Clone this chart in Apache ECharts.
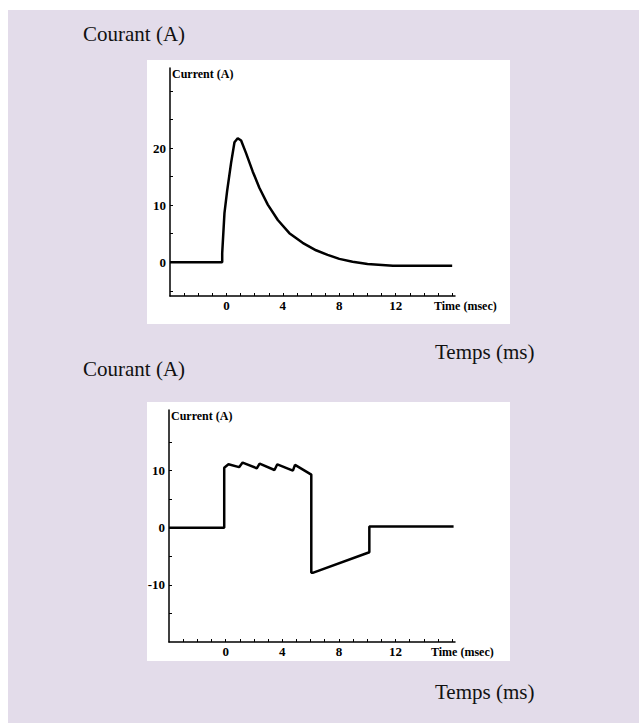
<!DOCTYPE html>
<html>
<head>
<meta charset="utf-8">
<script src="https://cdn.jsdelivr.net/npm/echarts@6/dist/echarts.min.js"></script>
<style>
  html, body { margin: 0; padding: 0; background: #fff; }
  #container { width: 639px; height: 723px; }
</style>
</head>
<body>
<div id="container"></div>
<script>
// top trace : current pulse (ms, A)
const timeA = [-4, -0.3, -0.3, -0.14, 0.05, 0.33, 0.57, 0.8, 1.04, 1.39, 1.86, 2.34, 2.93, 3.64, 4.46, 5.4, 6.35, 7.17, 8.0, 8.94, 10.0, 11.8, 16.0];
const currentA = [0, 0, 1.6, 8.6, 12.5, 17.4, 21.0, 21.7, 21.3, 19.1, 15.9, 13.0, 10.1, 7.4, 5.1, 3.4, 2.1, 1.3, 0.6, 0.1, -0.3, -0.6, -0.6];

// bottom trace : square pulse with sawtooth, then negative ramp
const timeB = [-4, -0.1, -0.1, 0.2, 0.95, 1.2, 2.2, 2.4, 3.45, 3.65, 4.75, 4.9, 6.05, 6.05, 6.15, 10.15, 10.15, 16.1];
const currentB = [0, 0, 10.5, 11.1, 10.6, 11.4, 10.4, 11.2, 10.1, 11.1, 10.0, 11.0, 9.3, -7.9, -7.9, -4.3, 0.2, 0.2];

// ticks and labels
const xTicks = [-3, -2, -1, 0, 1, 2, 3, 4, 5, 6, 7, 8, 9, 10, 11, 12, 13, 14, 15, 16];
const xLabels = [0, 4, 8, 12];
const yTicksA = [-5, 0, 5, 10, 15, 20, 25, 30];
const yLabelsA = [0, 10, 20];
const yTicksB = [-15, -10, -5, 0, 5, 10, 15];
const yLabelsB = [-10, 0, 10];

const serif = '"Liberation Serif", "Times New Roman", serif';
const toPairs = (xs, ys) => xs.map((x, i) => [x, ys[i]]);

function xAxisFor(gridIndex, gap) {
  return {
    type: 'value', gridIndex: gridIndex, min: -4, max: 16.2,
    splitLine: { show: false },
    axisLine: { onZero: false, lineStyle: { color: '#000', width: 1.5 } },
    axisTick: { inside: true, length: 3, customValues: xTicks, lineStyle: { color: '#000' } },
    axisLabel: { customValues: xLabels, margin: 3, color: '#000', fontFamily: serif, fontWeight: 'bold', fontSize: 13 },
    name: 'Time (msec)', nameLocation: 'end', nameGap: gap,
    nameTextStyle: { color: '#000', fontFamily: serif, fontWeight: 'bold', fontSize: 12, verticalAlign: 'top', padding: [4, 0, 0, 0] }
  };
}

function yAxisFor(gridIndex, min, max, ticks, labels) {
  return {
    type: 'value', gridIndex: gridIndex, min: min, max: max,
    splitLine: { show: false },
    axisLine: { onZero: false, lineStyle: { color: '#000', width: 1.5 } },
    axisTick: { inside: true, length: 3, customValues: ticks, lineStyle: { color: '#000' } },
    axisLabel: { customValues: labels, margin: 4, color: '#000', fontFamily: serif, fontWeight: 'bold', fontSize: 13 },
    name: 'Current (A)', nameLocation: 'end', nameGap: 0,
    nameTextStyle: { color: '#000', fontFamily: serif, fontWeight: 'bold', fontSize: 12, align: 'left', verticalAlign: 'top', padding: [0, 0, 0, 2] }
  };
}

function label(text, x, y) {
  return {
    type: 'text', x: x, y: y, z: 1,
    style: { text: text, fill: '#111', font: '21px ' + serif, textAlign: 'left', textVerticalAlign: 'middle', verticalAlign: 'middle' }
  };
}

const dom = document.getElementById('container');
const chart = echarts.init(dom, null, { renderer: 'svg' });

chart.setOption({
  animation: false,
  backgroundColor: '#fff',
  graphic: [
    { type: 'rect', z: -10, shape: { x: 8, y: 10, width: 640, height: 720 }, style: { fill: '#e3dcea' } },
    { type: 'rect', z: -9, shape: { x: 147, y: 60, width: 363, height: 264 }, style: { fill: '#fff' } },
    { type: 'rect', z: -9, shape: { x: 147, y: 402, width: 363, height: 259 }, style: { fill: '#fff' } },
    label('Courant (A)', 83, 34),
    label('Temps (ms)', 435, 352),
    label('Courant (A)', 83, 369),
    label('Temps (ms)', 435, 692)
  ],
  grid: [
    { left: 170, top: 68, width: 285, height: 228 },
    { left: 169, top: 410, width: 286, height: 232 }
  ],
  xAxis: [xAxisFor(0, -21), xAxisFor(1, -24)],
  yAxis: [
    yAxisFor(0, -5.9, 34, yTicksA, yLabelsA),
    yAxisFor(1, -20, 20.6, yTicksB, yLabelsB)
  ],
  series: [
    {
      type: 'line', xAxisIndex: 0, yAxisIndex: 0, showSymbol: false,
      lineStyle: { color: '#000', width: 2.5 },
      data: toPairs(timeA, currentA)
    },
    {
      type: 'line', xAxisIndex: 1, yAxisIndex: 1, showSymbol: false,
      lineStyle: { color: '#000', width: 2.5 },
      data: toPairs(timeB, currentB)
    }
  ]
});
</script>
</body>
</html>
